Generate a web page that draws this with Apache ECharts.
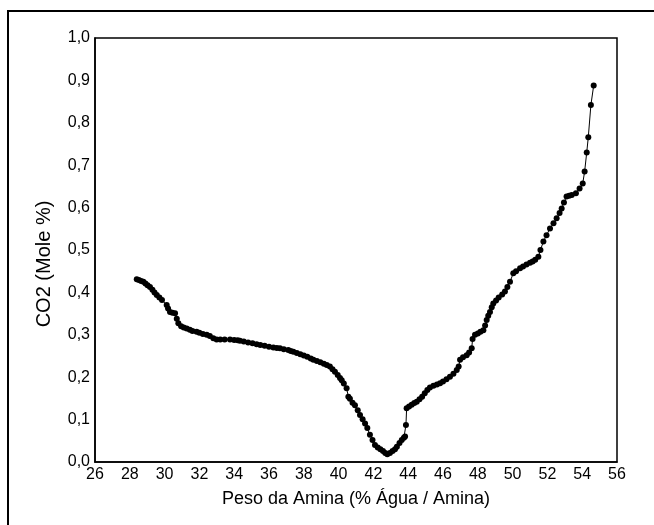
<!DOCTYPE html>
<html>
<head>
<meta charset="utf-8">
<script src="https://cdn.jsdelivr.net/npm/echarts@6/dist/echarts.min.js"></script>
<style>
  html, body { margin: 0; padding: 0; background: #fff; }
  #chart { width: 654px; height: 525px; }
</style>
</head>
<body>
<div id="chart"></div>
<script>
// peso da amina (%) e CO2 (mole %)
const amina = [
  28.40, 28.52, 28.65, 28.78, 28.90, 29.02, 29.16, 29.30, 29.42, 29.55,
  29.70, 29.85, 30.12, 30.20, 30.31, 30.45, 30.60, 30.70, 30.79, 30.95,
  31.10, 31.27, 31.45, 31.60, 31.84, 32.00, 32.20, 32.42, 32.60, 32.80,
  32.99, 33.20, 33.45, 33.76, 34.00, 34.20, 34.33, 34.55, 34.80, 35.05,
  35.29, 35.50, 35.75, 36.00, 36.25, 36.45, 36.63, 36.85, 37.11, 37.25,
  37.40, 37.60, 37.80, 38.00, 38.20, 38.40, 38.55, 38.75, 38.95, 39.15,
  39.32, 39.50, 39.65, 39.79, 39.95, 40.08, 40.18, 40.30, 40.46, 40.56,
  40.65, 40.80, 40.94, 41.10, 41.23, 41.38, 41.52, 41.65, 41.80, 41.95,
  42.09, 42.25, 42.40, 42.55, 42.68, 42.80, 42.95, 43.10, 43.24, 43.35,
  43.50, 43.63, 43.75, 43.82, 43.87, 43.91, 44.05, 44.20, 44.35, 44.49,
  44.65, 44.80, 44.95, 45.10, 45.25, 45.45, 45.65, 45.83, 46.00, 46.20,
  46.40, 46.60, 46.79, 46.90, 46.98, 47.15, 47.36, 47.50, 47.65, 47.70,
  47.84, 48.00, 48.15, 48.32, 48.42, 48.51, 48.60, 48.70, 48.80, 48.89,
  49.05, 49.20, 49.40, 49.56, 49.70, 49.85, 50.04, 50.20, 50.43, 50.60,
  50.80, 51.00, 51.15, 51.30, 51.48, 51.60, 51.77, 51.95, 52.15, 52.35,
  52.53, 52.70, 52.82, 52.95, 53.10, 53.25, 53.40, 53.64, 53.85, 54.03,
  54.14, 54.26, 54.35, 54.50, 54.66
];
const co2 = [
  0.431, 0.429, 0.427, 0.425, 0.421, 0.417, 0.413, 0.406, 0.400, 0.394,
  0.388, 0.382, 0.370, 0.362, 0.354, 0.352, 0.351, 0.338, 0.327, 0.320,
  0.317, 0.315, 0.312, 0.309, 0.307, 0.305, 0.302, 0.300, 0.297, 0.292,
  0.289, 0.289, 0.289, 0.289, 0.288, 0.287, 0.286, 0.284, 0.282, 0.280,
  0.278, 0.276, 0.274, 0.272, 0.270, 0.269, 0.268, 0.266, 0.264, 0.262,
  0.260, 0.257, 0.254, 0.251, 0.248, 0.244, 0.241, 0.238, 0.235, 0.232,
  0.229, 0.225, 0.219, 0.213, 0.205, 0.198, 0.193, 0.185, 0.174, 0.154,
  0.149, 0.140, 0.134, 0.122, 0.111, 0.101, 0.091, 0.080, 0.064, 0.052,
  0.040, 0.034, 0.030, 0.026, 0.021, 0.018, 0.021, 0.026, 0.030, 0.036,
  0.045, 0.052, 0.057, 0.060, 0.087, 0.127, 0.131, 0.135, 0.139, 0.142,
  0.148, 0.154, 0.162, 0.170, 0.176, 0.180, 0.183, 0.186, 0.190, 0.195,
  0.201, 0.208, 0.217, 0.225, 0.241, 0.247, 0.252, 0.258, 0.268, 0.290,
  0.300, 0.303, 0.307, 0.311, 0.322, 0.335, 0.345, 0.354, 0.365, 0.374,
  0.381, 0.388, 0.395, 0.402, 0.413, 0.425, 0.445, 0.450, 0.457, 0.461,
  0.466, 0.470, 0.473, 0.477, 0.484, 0.500, 0.520, 0.535, 0.551, 0.563,
  0.575, 0.587, 0.598, 0.612, 0.626, 0.628, 0.630, 0.634, 0.645, 0.657,
  0.685, 0.730, 0.766, 0.842, 0.888
];
const xTicks = [26, 28, 30, 32, 34, 36, 38, 40, 42, 44, 46, 48, 50, 52, 54, 56];

const pontos = amina.map((x, i) => [x, co2[i]]);

const chart = echarts.init(document.getElementById('chart'));
const fonte = 'Liberation Sans, Arial, sans-serif';

chart.setOption({
  animation: false,
  backgroundColor: '#fff',
  graphic: [
    {
      // moldura externa
      type: 'rect',
      shape: { x: 8, y: 11, width: 700, height: 600 },
      style: { fill: 'none', stroke: '#000', lineWidth: 2 },
      silent: true
    },
    {
      // titulo do eixo y
      type: 'text',
      x: 44, y: 264,
      rotation: Math.PI / 2,
      style: {
        text: 'CO2 (Mole %)',
        font: '20px ' + fonte,
        fill: '#000',
        align: 'center',
        verticalAlign: 'middle'
      },
      silent: true
    }
  ],
  grid: {
    left: 95, right: 37, top: 38, bottom: 63,
    show: true, borderColor: '#000', borderWidth: 1.5, backgroundColor: 'transparent'
  },
  xAxis: {
    type: 'value',
    min: xTicks[0], max: xTicks[xTicks.length - 1], interval: 2,
    name: 'Peso da Amina (% Água / Amina)',
    nameLocation: 'middle', nameGap: 28,
    nameTextStyle: { fontFamily: fonte, fontSize: 18, color: '#000' },
    axisLine: { show: true, lineStyle: { color: '#000', width: 1.5 } },
    axisTick: { show: false },
    splitLine: { show: false },
    axisLabel: { fontFamily: fonte, fontSize: 16, color: '#000', margin: 5 }
  },
  yAxis: {
    type: 'value',
    min: 0, max: 1, interval: 0.1,
    axisLine: { show: true, lineStyle: { color: '#000', width: 1.5 } },
    axisTick: { show: false },
    splitLine: { show: false },
    axisLabel: {
      fontFamily: fonte, fontSize: 16, color: '#000', margin: 5,
      formatter: v => v.toFixed(1).replace('.', ',')
    }
  },
  series: [
    {
      type: 'line',
      data: pontos,
      symbol: 'circle',
      symbolSize: 6,
      itemStyle: { color: '#000' },
      lineStyle: { color: '#000', width: 1 }
    }
  ]
});
</script>
</body>
</html>
